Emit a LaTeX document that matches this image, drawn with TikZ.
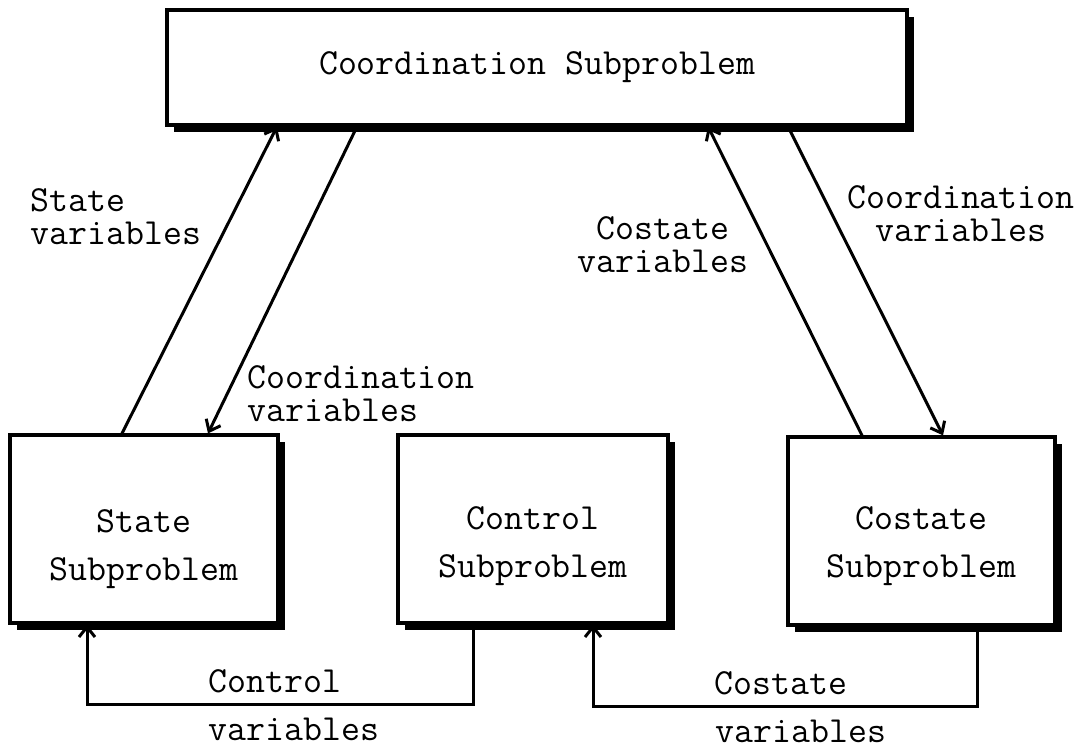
\documentclass[tikz,border=0pt]{standalone}
\usepackage{xcolor}
\usepackage{tikz}
\usetikzlibrary{
  positioning,
  arrows.meta,
  shadows
}
\newcommand{\twfont}{\ttfamily\fontsize{18.4}{24}\selectfont}
\newcommand{\twline}[2]{\begin{tabular}[b]{@{}c@{}}#1\\#2\end{tabular}}
\tikzset{
  >={Straight Barb[length=5pt,width=8pt]},
  flowarrow/.style={->,line width=1.5pt},
  subbox/.style={rectangle,draw,line width=1.6pt,fill=white,minimum height=94pt,inner sep=0pt,text depth=0pt,
    drop shadow={shadow xshift=3.5pt,shadow yshift=-3.5pt,fill=black,opacity=1}},
  varlabel/.style={inner sep=0pt,font=\ttfamily\fontsize{18.4}{16.5}\selectfont},
  flowlabel/.style={inner sep=5pt}
}

\begin{document}
\begin{tikzpicture}[x=0.5pt,y=-0.5pt,font=\twfont]
    \useasboundingbox (0,0) rectangle (1090,749);

    \node[subbox,minimum width=370pt,minimum height=57.5pt,text height=7.5pt] (coord) at (537,67.5) {Coordination Subproblem};
    \node[subbox,minimum width=134pt,text height=51pt] (state) at (144,529) {\twline{State}{Subproblem}};
    \node[subbox,minimum width=135pt,text height=48pt] (control) at (533,529) {\twline{Control}{Subproblem}};
    \node[subbox,minimum width=133.5pt,text height=46pt] (costate) at (921.5,531) {\twline{Costate}{Subproblem}};

    \draw[flowarrow] ([xshift=-11pt]state.north) -- ([xshift=-130pt]coord.south);
    \draw[flowarrow] ([xshift=-90pt]coord.south) -- ([xshift=32pt]state.north);
    \draw[flowarrow] ([xshift=-29.75pt]costate.north) -- ([xshift=85.5pt]coord.south);
    \draw[flowarrow] ([xshift=125.5pt]coord.south) -- ([xshift=10.75pt]costate.north);

    \node[varlabel,anchor=north west,align=left] (lstatevar) at (30,188) {State\\variables};
    \node[varlabel,anchor=north west,align=left] (lcoordleft) at (247,365) {Coordination\\variables};
    \node[varlabel,anchor=north,align=center] (lcostatevar) at (663,216) {Costate\\variables};
    \node[varlabel,anchor=north,align=center] (lcoordright) at (961,185) {Coordination\\variables};

    \draw[flowarrow] ([xshift=-30pt]control.south) -- ++(0,80)
        -| node[flowlabel,pos=.25,above,xshift=-2.5pt] (lctrl) {Control}
           node[flowlabel,pos=.25,below,xshift=7pt,yshift=-1pt] (lctrlvar) {variables}
        ([xshift=-28.5pt]state.south);
    \draw[flowarrow] ([xshift=27.75pt]costate.south) -- ++(0,80)
        -| node[flowlabel,pos=.25,above,xshift=-2pt] (lcost) {Costate}
           node[flowlabel,pos=.25,below,xshift=8pt,yshift=-1pt] (lcostvar) {variables}
        ([xshift=30pt]control.south);
\end{tikzpicture}
\end{document}
